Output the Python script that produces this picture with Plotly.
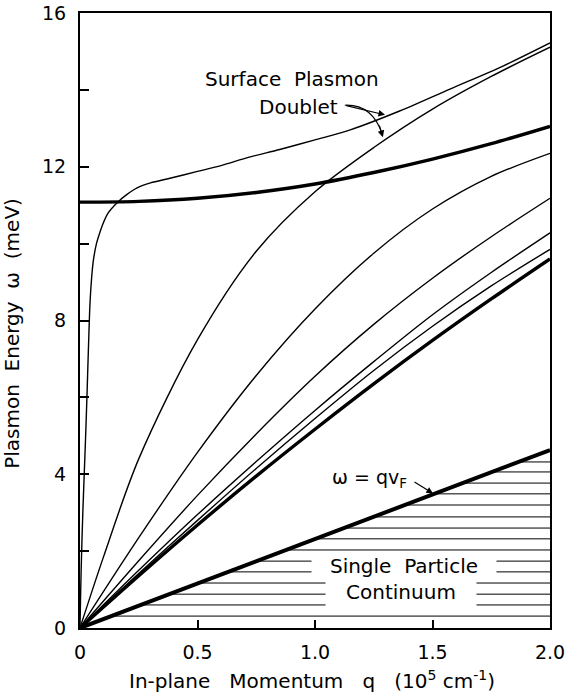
import plotly.graph_objects as go

# ---- data ----
# Surface-plasmon branch that rises steeply from the origin (thin)
A_q = [0, 0.003, 0.007, 0.012, 0.018, 0.024, 0.03, 0.036, 0.043, 0.05, 0.057, 0.07, 0.085,
       0.1, 0.12, 0.157, 0.2, 0.243, 0.3, 0.383, 0.5, 0.6, 0.72, 0.85, 1.0, 1.15, 1.36, 1.574, 1.8, 2.0]
A_w = [0, 1.0, 2.0, 3.0, 4.0, 5.0, 6.1, 7.3, 8.5, 9.15, 9.57, 10.0, 10.3,
       10.55, 10.8, 11.06, 11.28, 11.45, 11.58, 11.7, 11.88, 12.03, 12.25, 12.45, 12.7, 12.96, 13.45, 14.02, 14.62, 15.22]
# Second doublet branch (thin)
B_q = [0, 0.1, 0.25, 0.5, 0.75, 1.0, 1.25, 1.5, 1.75, 2.0]
B_w = [0, 1.85, 4.4, 7.5, 9.8, 11.35, 12.5, 13.5, 14.35, 15.11]
# Bulk-like modes (thin)
C_q = [0, 0.25, 0.5, 0.75, 1.0, 1.25, 1.5, 1.75, 2.0]
C_w = [0, 2.35, 4.57, 6.57, 8.3, 9.75, 10.9, 11.75, 12.35]
D_q = [0, 0.25, 0.5, 0.75, 1.0, 1.25, 1.5, 1.75, 2.0]
D_w = [0, 1.75, 3.45, 5.05, 6.55, 7.9, 9.1, 10.18, 11.18]
E_q = [0, 0.25, 0.5, 0.75, 1.0, 1.25, 1.5, 1.75, 2.0]
E_w = [0, 1.5, 2.95, 4.33, 5.66, 6.93, 8.15, 9.25, 10.28]
F_q = [0, 0.25, 0.5, 0.75, 1.0, 1.25, 1.5, 1.75, 2.0]
F_w = [0, 1.42, 2.8, 4.15, 5.45, 6.7, 7.85, 8.9, 9.85]
# Lower band edge (thick)
G_q = [0, 0.25, 0.5, 0.75, 1.0, 1.25, 1.5, 1.75, 2.0]
G_w = [0, 1.36, 2.68, 3.95, 5.17, 6.35, 7.48, 8.56, 9.6]
# Upper surface plasmon (thick)
S_q = [0, 0.25, 0.5, 0.75, 1.0, 1.25, 1.5, 1.75, 2.0]
S_w = [11.08, 11.1, 11.18, 11.33, 11.55, 11.85, 12.2, 12.6, 13.05]
# omega = q vF boundary of the single-particle continuum
vf_q = [0, 2.0]
vf_w = [0, 4.63]
# hatch levels inside the continuum
hatch_levels = [0.31, 0.60, 0.88, 1.17, 1.46, 1.74, 2.03, 2.32, 2.60, 2.89, 3.20, 3.49, 3.77, 4.06, 4.32]

x_ticks = [0, 0.5, 1.0, 1.5, 2.0]
x_labels = ['0', '0.5', '1.0', '1.5', '2.0']
y_ticks = [0, 4, 8, 12, 16]
y_labels = ['0', '4', '8', '12', '16']
y_minor = [2, 6, 10, 14]

FONT = 'DejaVu Sans'
fig = go.Figure()

# hatch lines (drawn first, underneath)
slope = vf_w[-1] / vf_q[-1]
hx, hy = [], []
for lv in hatch_levels:
    hx += [lv / slope, vf_q[-1], None]
    hy += [lv, lv, None]
fig.add_trace(go.Scatter(x=hx, y=hy, mode='lines', line=dict(color='black', width=1),
                         hoverinfo='skip', showlegend=False))

def add(q, w, width):
    fig.add_trace(go.Scatter(x=q, y=w, mode='lines',
                             line=dict(color='black', width=width, shape='spline', smoothing=0.9),
                             hoverinfo='skip', showlegend=False))

for q, w in [(A_q, A_w), (B_q, B_w), (C_q, C_w), (D_q, D_w), (E_q, E_w), (F_q, F_w)]:
    add(q, w, 1.4)
add(G_q, G_w, 3.4)
add(S_q, S_w, 3.4)
fig.add_trace(go.Scatter(x=vf_q, y=vf_w, mode='lines', line=dict(color='black', width=4),
                         hoverinfo='skip', showlegend=False))

TF = dict(family=FONT, size=20, color='black')
ann = []
ann.append(dict(x=0.902, y=14.28, xref='x', yref='y', text='Surface  Plasmon', showarrow=False, font=TF))
ann.append(dict(x=0.93, y=13.56, xref='x', yref='y', text='Doublet', showarrow=False, font=TF))
# upper doublet arrow (nearly straight)
ann.append(dict(x=1.298, y=13.35, ax=1.127, ay=13.6, xref='x', yref='y', axref='x', ayref='y',
                text='', showarrow=True, arrowhead=2, arrowsize=1.1, arrowwidth=1.2, arrowcolor='black'))
# lower doublet arrow: curved stem + head
ann.append(dict(x=1.289, y=12.77, ax=-4, ay=-13, xref='x', yref='y',
                text='', showarrow=True, arrowhead=2, arrowsize=1.1, arrowwidth=1.2, arrowcolor='black'))
ann.append(dict(x=1.233, y=3.9, xref='x', yref='y', text='ω = qv<sub>F</sub>', showarrow=False,
                font=dict(family=FONT, size=19, color='black')))
ann.append(dict(x=1.502, y=3.5, ax=1.417, ay=3.82, xref='x', yref='y', axref='x', ayref='y',
                text='', showarrow=True, arrowhead=2, arrowsize=1.1, arrowwidth=1.2, arrowcolor='black'))
ann.append(dict(x=1.379, y=1.61, xref='x', yref='y', text='Single  Particle', showarrow=False,
                font=TF, bgcolor='white', width=184, height=22, borderpad=0))
ann.append(dict(x=1.366, y=0.93, xref='x', yref='y', text='Continuum', showarrow=False,
                font=TF, bgcolor='white', width=150, height=28, borderpad=0))
# axis titles
ann.append(dict(x=-0.1447, y=0.48, xref='paper', yref='paper', text='Plasmon  Energy  ω  (meV)',
                showarrow=False, textangle=-90, xanchor='center', yanchor='middle', font=TF))
ann.append(dict(x=0.494, y=-0.084, xref='paper', yref='paper',
                text='In-plane   Momentum   q   (10<sup>5</sup> cm<sup>-1</sup>)',
                showarrow=False, xanchor='center', yanchor='middle', font=TF))

shapes = [dict(type='path', xref='x', yref='y',
               path='M 1.127,13.6 Q 1.243,13.63 1.286,12.85',
               line=dict(color='black', width=1.2))]

fig.update_layout(
    width=570, height=695,
    margin=dict(l=80, r=20, t=13, b=67),
    paper_bgcolor='white', plot_bgcolor='white',
    font=dict(family=FONT, size=18, color='black'),
    annotations=ann, shapes=shapes,
    xaxis=dict(range=[0, 2.0], showgrid=False, zeroline=False, showline=True, linewidth=2,
               linecolor='black', mirror=True, ticks='inside', ticklen=8, tickwidth=1.5,
               tickcolor='black', tickvals=x_ticks, ticktext=x_labels, automargin=False,
               tickfont=dict(family=FONT, size=19), ticklabelstandoff=6),
    yaxis=dict(range=[0, 16], showgrid=False, zeroline=False, showline=True, linewidth=2,
               linecolor='black', mirror=True, ticks='inside', ticklen=9, tickwidth=1.5,
               tickcolor='black', tickvals=y_ticks, ticktext=y_labels, automargin=False,
               tickfont=dict(family=FONT, size=19), ticklabelstandoff=8,
               minor=dict(tickvals=y_minor, ticks='inside', ticklen=9, tickwidth=1.5,
                          tickcolor='black', showgrid=False)),
)

fig.write_html('out.html', config={'displayModeBar': False},
               post_script="document.body.style.margin='0';document.body.style.overflow='hidden';")
